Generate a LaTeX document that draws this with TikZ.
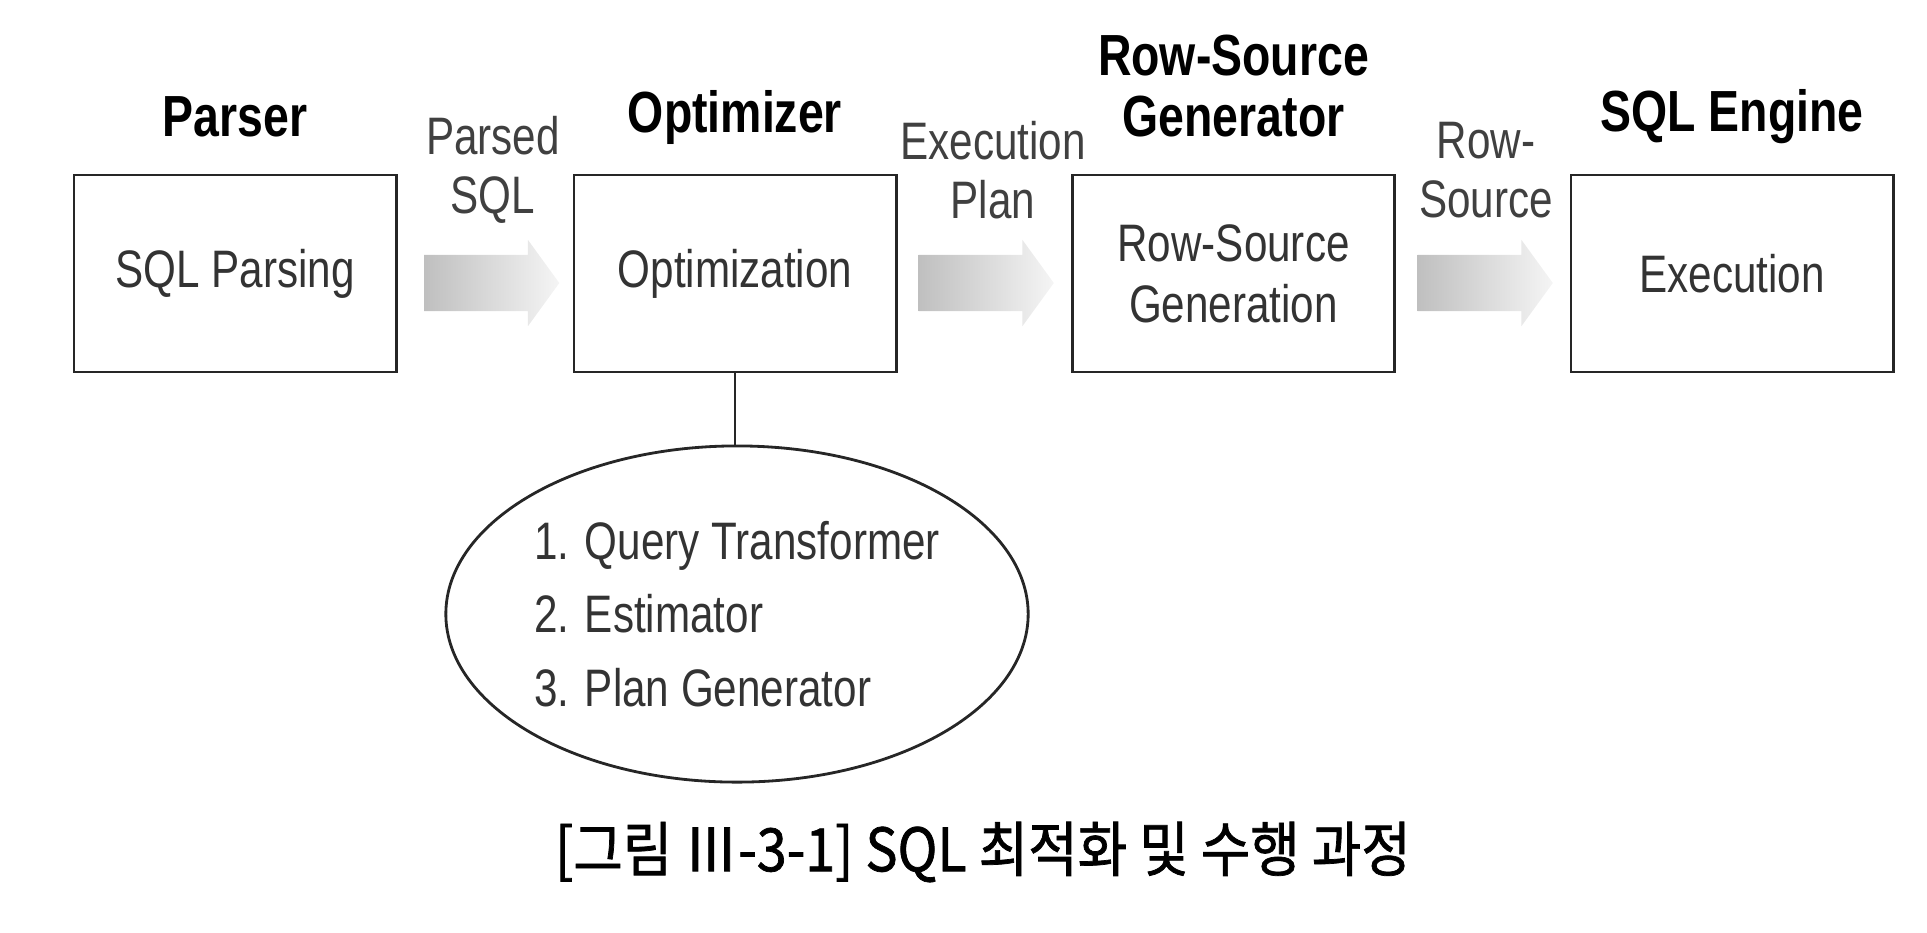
\documentclass[tikz,border=0pt]{standalone}
\usepackage{fontspec}
\setmainfont{Liberation Sans}[FakeStretch=0.8]
\newfontfamily\krfont{Noto Sans CJK KR}[FakeStretch=0.9,FakeBold=1.2]
\usetikzlibrary{shapes.arrows,shapes.geometric}

\begin{document}
\begin{tikzpicture}[x=0.01cm,y=-0.01cm,
    stage/.style={draw=black!85,line width=0.8pt,minimum width=3.22cm,minimum height=1.97cm,
                  align=center,font=\fontsize{15}{17.4}\selectfont,text=black!80},
    title/.style={align=center,font=\fontsize{16.5}{17.4}\selectfont\bfseries},
    lbl/.style={align=center,font=\fontsize{15}{16.8}\selectfont,text=black!75},
    flow/.style={single arrow,minimum height=1.35cm,inner xsep=0pt,inner ysep=0.275cm,
                 single arrow head extend=0.15cm,single arrow tip angle=108,
                 left color=gray!50,right color=gray!8,draw=none}]
  \useasboundingbox (0,0) rectangle (1927,932);

  % stages
  \node[stage] (parse) at (235,273.5) {SQL Parsing};
  \node[stage] (opt) at (735,273.5) {Optimization};
  \node[stage] (rsg) at (1233.5,273.5) {Row-Source\\Generation};
  \node[stage] (exec) at (1732,273.5) {Execution};

  \node[title] (tParse) at (235,117) {Parser};
  \node[title] (tOpt) at (735,117) {Optimizer};
  \node[title] (tRsg) at (1233.5,86) {Row-Source\\Generator};
  \node[title] (tExec) at (1732,117) {SQL Engine};

  % arrows between stages
  \node[flow] (f1) at (481.5,283) {};
  \node[flow] (f2) at (976,283) {};
  \node[flow] (f3) at (1475,283) {};

  \node[lbl] (l1) at (493,170) {Parsed\\SQL};
  \node[lbl] (l2) at (993,170) {Execution\\Plan};
  \node[lbl] (l3) at (1486,170) {Row-\\Source};

  % optimizer parts
  \node[ellipse,draw=black!85,line width=0.8pt,minimum width=5.82cm,minimum height=3.36cm,
        inner sep=0pt,align=left,font=\fontsize{15}{21}\selectfont,text=black!80] (parts) at (737,614)
        {1. Query Transformer\\2. Estimator\\3. Plan Generator};
  \draw[black!85,line width=0.8pt] (opt.south) -- (opt.south |- parts.north);

  \node[font=\krfont\fontsize{17}{19}\selectfont] (cap) at (983,852)
        {[그림 Ⅲ-3-1] SQL 최적화 및 수행 과정};
\end{tikzpicture}
\end{document}
